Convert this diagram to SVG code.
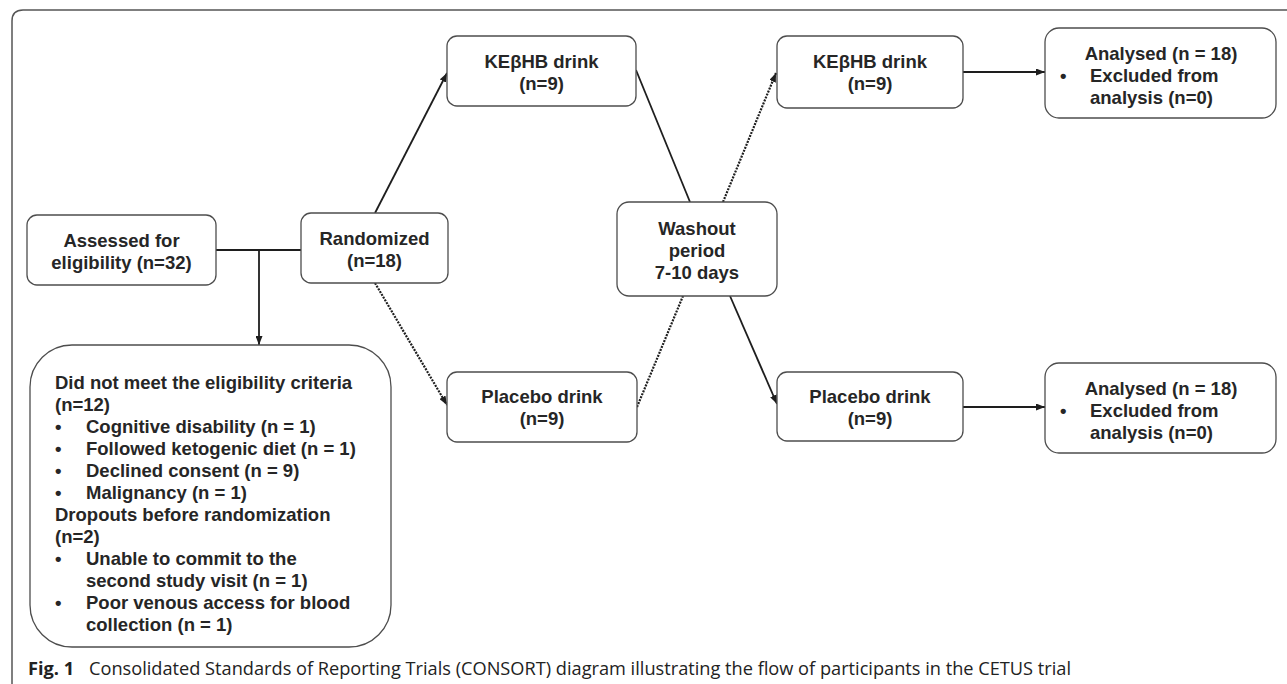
<svg xmlns="http://www.w3.org/2000/svg" width="1287" height="684" viewBox="0 0 1287 684">
<defs>
<style>
.box{fill:#fff;stroke:#4d4d4d;stroke-width:1.3}
.t{font-family:"Liberation Sans",Arial,sans-serif;font-weight:bold;font-size:18.5px;fill:#262626}
.c{text-anchor:middle}
.ln{fill:none;stroke:#1e1e1e;stroke-width:1.8}
.dot{fill:none;stroke:#1e1e1e;stroke-width:2.2;stroke-dasharray:2 1.2}
.cap{font-family:"Open Sans","Noto Sans",sans-serif;font-size:18.2px;fill:#222}
</style>
<marker id="ah" markerUnits="userSpaceOnUse" markerWidth="9" markerHeight="7" refX="9" refY="3.5" orient="auto">
<path d="M0,0 L9,3.5 L0,7 z" fill="#1e1e1e"/>
</marker>
</defs>
<rect width="1287" height="684" fill="#fff"/>
<path d="M12,684 V21 Q12,10 23,10 H1287" fill="none" stroke="#555" stroke-width="1.5"/>

<g id="connectors">
<line class="ln" x1="216" y1="250" x2="301" y2="250"/>
<line class="ln" x1="259" y1="250" x2="259" y2="345" marker-end="url(#ah)"/>
<line class="ln" x1="375" y1="213" x2="447" y2="73" marker-end="url(#ah)"/>
<line class="dot" x1="375" y1="283" x2="447" y2="405" marker-end="url(#ah)"/>
<line class="ln" x1="636" y1="70" x2="690" y2="202"/>
<line class="dot" x1="637" y1="407" x2="683" y2="296"/>
<line class="dot" x1="723" y1="202" x2="776" y2="73" marker-end="url(#ah)"/>
<line class="ln" x1="730" y1="296" x2="777" y2="404" marker-end="url(#ah)"/>
<line class="ln" x1="963" y1="72" x2="1045" y2="72" marker-end="url(#ah)"/>
<line class="ln" x1="963" y1="407" x2="1045" y2="407" marker-end="url(#ah)"/>
</g>

<g id="assessed">
<rect class="box" x="27" y="215" width="189" height="70" rx="10"/>
<text class="t c" x="121.5" y="246.5">Assessed for</text>
<text class="t c" x="121.5" y="268.5">eligibility (n=32)</text>
</g>

<g id="randomized">
<rect class="box" x="301" y="213" width="147" height="70" rx="10"/>
<text class="t c" x="374.5" y="244.5">Randomized</text>
<text class="t c" x="374.5" y="266.5">(n=18)</text>
</g>

<g id="excluded">
<rect class="box" x="30" y="345" width="361" height="302" rx="42"/>
<text class="t" x="55" y="388.5">Did not meet the eligibility criteria</text>
<text class="t" x="55" y="410.5">(n=12)</text>
<text class="t" x="55" y="432.5">•</text><text class="t" x="86" y="432.5">Cognitive disability (n = 1)</text>
<text class="t" x="55" y="454.5">•</text><text class="t" x="86" y="454.5">Followed ketogenic diet (n = 1)</text>
<text class="t" x="55" y="476.5">•</text><text class="t" x="86" y="476.5">Declined consent (n = 9)</text>
<text class="t" x="55" y="498.5">•</text><text class="t" x="86" y="498.5">Malignancy (n = 1)</text>
<text class="t" x="55" y="520.5">Dropouts before randomization</text>
<text class="t" x="55" y="542.5">(n=2)</text>
<text class="t" x="55" y="564.5">•</text><text class="t" x="86" y="564.5">Unable to commit to the</text>
<text class="t" x="86" y="586.5">second study visit (n = 1)</text>
<text class="t" x="55" y="608.5">•</text><text class="t" x="86" y="608.5">Poor venous access for blood</text>
<text class="t" x="86" y="630.5">collection (n = 1)</text>
</g>

<g id="ke1">
<rect class="box" x="447" y="36" width="189" height="70" rx="10"/>
<text class="t c" x="541.5" y="67.5">KEβHB drink</text>
<text class="t c" x="541.5" y="89.5">(n=9)</text>
</g>

<g id="placebo1">
<rect class="box" x="447" y="372" width="190" height="70" rx="10"/>
<text class="t c" x="542" y="402.5">Placebo drink</text>
<text class="t c" x="542" y="424.5">(n=9)</text>
</g>

<g id="washout">
<rect class="box" x="617" y="202" width="160" height="94" rx="12"/>
<text class="t c" x="697" y="234.5">Washout</text>
<text class="t c" x="697" y="256.5">period</text>
<text class="t c" x="697" y="278.5">7-10 days</text>
</g>

<g id="ke2">
<rect class="box" x="777" y="36" width="186" height="72" rx="10"/>
<text class="t c" x="870" y="67.5">KEβHB drink</text>
<text class="t c" x="870" y="89.5">(n=9)</text>
</g>

<g id="placebo2">
<rect class="box" x="777" y="372" width="186" height="69" rx="10"/>
<text class="t c" x="870" y="402.5">Placebo drink</text>
<text class="t c" x="870" y="424.5">(n=9)</text>
</g>

<g id="analysed1">
<rect class="box" x="1045" y="28" width="231" height="90" rx="14"/>
<text class="t c" x="1161" y="59.5">Analysed (n = 18)</text>
<text class="t" x="1060" y="81.5">•</text><text class="t" x="1090" y="81.5">Excluded from</text>
<text class="t" x="1090" y="103.5">analysis (n=0)</text>
</g>

<g id="analysed2">
<rect class="box" x="1045" y="363" width="231" height="90" rx="14"/>
<text class="t c" x="1161" y="394.5">Analysed (n = 18)</text>
<text class="t" x="1060" y="416.5">•</text><text class="t" x="1090" y="416.5">Excluded from</text>
<text class="t" x="1090" y="438.5">analysis (n=0)</text>
</g>

<g id="caption">
<text class="cap" x="28" y="675" font-weight="bold">Fig. 1</text>
<text class="cap" x="89" y="675">Consolidated Standards of Reporting Trials (CONSORT) diagram illustrating the flow of participants in the CETUS trial</text>
</g>
</svg>
